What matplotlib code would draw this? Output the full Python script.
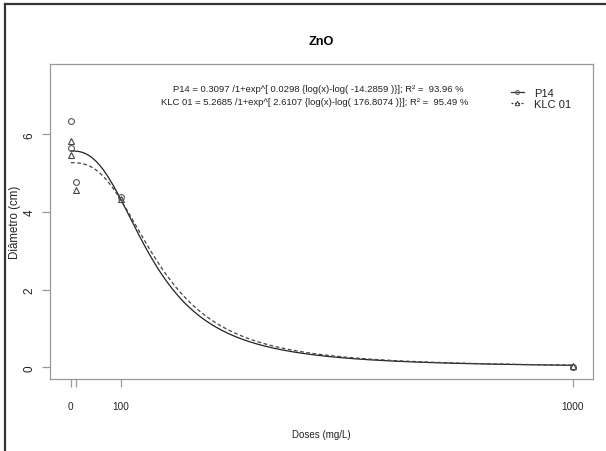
import numpy as np
import matplotlib
matplotlib.use("Agg")
import matplotlib.pyplot as plt
from matplotlib.lines import Line2D

plt.rcParams['font.family'] = ['Liberation Sans', 'DejaVu Sans']

# observed diameters
p14_dose = [0, 0, 10, 100, 1000]
p14_diam = [6.34, 5.64, 4.77, 4.38, 0.02]
klc_dose = [0, 0, 10, 100, 1000]
klc_diam = [5.82, 5.46, 4.57, 4.33, 0.03]

# log-logistic fits  y = d / (1 + exp(b*(log(x) - log(e))))
klc_d, klc_b, klc_e = 5.2685, 2.6107, 176.8074
p14_d, p14_b, p14_e = 5.57, 2.55, 162.0

eq_p14 = "P14 = 0.3097 /1+exp^[ 0.0298 {log(x)-log( -14.2859 )}]; R\u00b2 =  93.96 %"
eq_klc = "KLC 01 = 5.2685 /1+exp^[ 2.6107 {log(x)-log( 176.8074 )}]; R\u00b2 =  95.49 %"

x_ticks = [0, 10, 100, 1000]
x_ticklabels = ['0', '', '100', '1000']
y_ticks = [0, 2, 4, 6]


def loglogistic(x, d, b, e):
    with np.errstate(divide='ignore'):
        return d / (1 + np.exp(b * (np.log(x) - np.log(e))))


W, H = 606, 452
fig = plt.figure(figsize=(W / 100, H / 100), dpi=100)
ax = fig.add_axes([50 / W, 1 - 380 / H, 542.7 / W, 314.7 / H])

xs = np.linspace(0, 1000, 800)
ax.plot(xs, loglogistic(xs, p14_d, p14_b, p14_e), color='#222222', lw=0.9, ls='-')
ax.plot(xs, loglogistic(xs, klc_d, klc_b, klc_e), color='#444444', lw=0.9, ls=(0, (3, 2)))

ax.plot(p14_dose, p14_diam, ls='none', marker='o', ms=4.2, mfc='none', mec='#555555', mew=0.8)
ax.plot(klc_dose, klc_diam, ls='none', marker='^', ms=4.6, mfc='none', mec='#444444', mew=0.8)

ax.set_xlim(-41.7, 1040)
ax.set_ylim(-0.3, 7.8)
ax.set_xticks(x_ticks)
ax.set_xticklabels(x_ticklabels, fontsize=7.2)
ax.set_yticks(y_ticks)
ax.set_yticklabels([str(v) for v in y_ticks], rotation=90, va='center', fontsize=8.5)

for s in ax.spines.values():
    s.set_color('#999999')
    s.set_linewidth(0.9)
ax.tick_params(axis='both', colors='#999999', labelcolor='#222222',
               length=5.5, width=0.9)
ax.tick_params(axis='x', pad=10)
ax.tick_params(axis='y', pad=5)

ax.set_xlabel('Doses (mg/L)', fontsize=7.0, color='#222222', labelpad=13)
ax.set_ylabel('Diâmetro (cm)', fontsize=8.3, color='#222222', labelpad=1.5)

fig.text(321 / W, 1 - 42 / H, 'ZnO', ha='center', va='center', fontsize=9.2, fontweight='bold')
fig.text(318 / W, 1 - 89 / H, eq_p14, ha='center', va='center', fontsize=6.8, color='#222222')
fig.text(315 / W, 1 - 102.5 / H, eq_klc, ha='center', va='center', fontsize=6.8, color='#222222')

handles = [
    Line2D([], [], color='#333333', lw=0.9, marker='o', ms=2.8, mfc='none', mec='#555555', mew=0.7),
    Line2D([], [], color='#333333', lw=0.9, ls=(0, (1.5, 1.2)), marker='^', ms=3.2, mfc='none',
           mec='#444444', mew=0.7),
]
fig.legend(handles, ['P14', 'KLC 01'], loc='center left', bbox_to_anchor=(511 / W, 1 - 99.5 / H),
           frameon=False, fontsize=8.0, handlelength=1.15, handletextpad=0.95, labelspacing=0.05,
           borderpad=0, borderaxespad=0, labelcolor='#222222')

# outer frame on the left and top edges
fig.add_artist(Line2D([5 / W, 5 / W], [0, 1 - 4.5 / H], transform=fig.transFigure,
                      color='#333333', lw=1.6))
fig.add_artist(Line2D([5 / W, 1], [1 - 4.5 / H, 1 - 4.5 / H], transform=fig.transFigure,
                      color='#333333', lw=1.6))

fig.savefig('out.png', dpi=100)
